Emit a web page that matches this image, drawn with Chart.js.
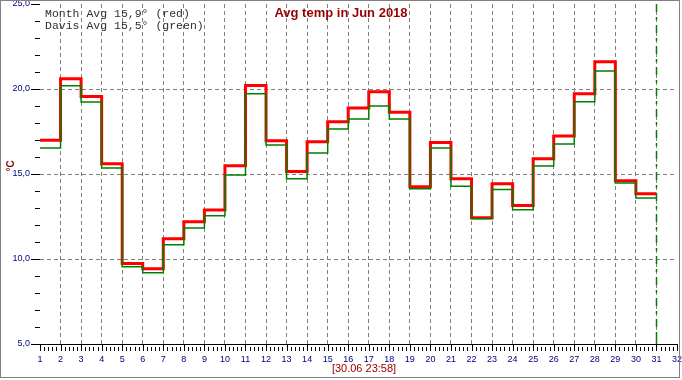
<!DOCTYPE html>
<html lang="en">
<head>
<meta charset="UTF-8">
<title>Avg temp in Jun 2018</title>
<style>
    html, body {
        margin: 0;
        padding: 0;
        background: #fff;
    }
</style>
</head>
<body>
<canvas id="tempChart" width="682" height="380"></canvas>

<script src="https://cdn.jsdelivr.net/npm/chart.js"></script>
<script>
    // days of June 2018, one step per day
    const days = [1, 2, 3, 4, 5, 6, 7, 8, 9, 10, 11, 12, 13, 14, 15,
                  16, 17, 18, 19, 20, 21, 22, 23, 24, 25, 26, 27, 28, 29, 30];

    // month average (red)
    const monthAvg = [16.98, 20.61, 19.56, 15.61, 9.74, 9.43, 11.19, 12.19, 12.88, 15.49,
                      20.21, 16.96, 15.14, 16.90, 18.08, 18.88, 19.84, 18.63, 14.25, 16.86,
                      14.72, 12.42, 14.43, 13.15, 15.90, 17.23, 19.72, 21.61, 14.61, 13.84];

    // Davis station average (green)
    const davisAvg = [16.53, 20.19, 19.24, 15.35, 9.54, 9.19, 10.84, 11.82, 12.55, 14.94,
                      19.72, 16.71, 14.72, 16.24, 17.65, 18.24, 19.00, 18.24, 14.13, 16.53,
                      14.28, 12.37, 14.09, 12.90, 15.47, 16.76, 19.25, 21.06, 14.47, 13.59];

    const yLabelValues = [5, 10, 15, 20, 25];
    const yGridValues = [10, 15, 20];
    const legendLines = ['Month Avg 15,9\u00b0 (red)', 'Davis Avg 15,5\u00b0 (green)'];
    const chartTitle = 'Avg temp in Jun 2018';
    const stampText = '[30.06 23:58]';
    const nowDay = 31;

    const xMin = 1, xMax = 32, yMin = 5, yMax = 25;

    // each day is a flat step from d to d+1, so repeat the last value at day 31
    function stepPoints(values) {
        const pts = days.map((d, i) => ({ x: d, y: values[i] }));
        pts.push({ x: days[days.length - 1] + 1, y: values[values.length - 1] });
        return pts;
    }

    const decorations = {
        id: 'decorations',
        beforeDraw(chart) {
            const ctx = chart.ctx;
            ctx.save();
            ctx.fillStyle = '#fff';
            ctx.fillRect(0, 0, chart.width, chart.height);
            ctx.restore();
        },
        afterDraw(chart) {
            const { ctx, chartArea, scales: { x, y } } = chart;
            ctx.save();

            // tick marks on both axes
            ctx.strokeStyle = '#000';
            ctx.lineWidth = 1;
            ctx.beginPath();
            for (let v = yMin; v <= yMax; v++) {
                const py = Math.round(y.getPixelForValue(v)) + 0.5;
                const major = yLabelValues.includes(v);
                ctx.moveTo(chartArea.left - (major ? 9 : 5), py);
                ctx.lineTo(chartArea.left, py);
            }
            for (let i = 0; i <= (xMax - xMin) * 5; i++) {
                const px = Math.round(x.getPixelForValue(xMin + i / 5)) + 0.5;
                const major = i % 5 === 0;
                ctx.moveTo(px, chartArea.bottom + (major ? 0 : 3));
                ctx.lineTo(px, chartArea.bottom + 7);
            }
            ctx.stroke();

            // "now" marker
            const nx = Math.round(x.getPixelForValue(nowDay)) + 0.5;
            ctx.strokeStyle = '#008000';
            ctx.lineWidth = 1.5;
            ctx.setLineDash([8, 5, 3, 5]);
            ctx.beginPath();
            ctx.moveTo(nx, chartArea.top);
            ctx.lineTo(nx, chartArea.bottom - 10);
            ctx.stroke();
            ctx.setLineDash([]);
            ctx.beginPath();
            ctx.moveTo(nx, chartArea.bottom - 10);
            ctx.lineTo(nx, chartArea.bottom);
            ctx.stroke();

            // legend text
            ctx.fillStyle = '#303030';
            ctx.font = '11.5px "Liberation Mono", "Courier New", monospace';
            ctx.textAlign = 'left';
            ctx.textBaseline = 'alphabetic';
            ctx.fillText(legendLines[0], 45, 17);
            ctx.fillText(legendLines[1], 45, 28.5);

            // title
            ctx.fillStyle = '#990000';
            ctx.font = 'bold 13px "Liberation Sans", Arial, sans-serif';
            ctx.textAlign = 'center';
            ctx.fillText(chartTitle, 341, 16.5);

            // time stamp under the x axis
            ctx.fillStyle = '#a00000';
            ctx.font = '11px "Liberation Sans", Arial, sans-serif';
            ctx.textBaseline = 'middle';
            ctx.fillText(stampText, 364, 369);

            // unit label
            ctx.save();
            ctx.translate(11, 166);
            ctx.rotate(-Math.PI / 2);
            ctx.fillStyle = '#800000';
            ctx.font = 'bold 10px "Liberation Sans", Arial, sans-serif';
            ctx.fillText('\u00b0C', 0, 0);
            ctx.restore();

            // frame round the picture
            ctx.strokeStyle = '#808080';
            ctx.lineWidth = 1;
            ctx.strokeRect(0.5, 0.5, 679, 377);

            ctx.restore();
        }
    };

    function noPadding(scale) {
        scale.paddingTop = 0;
        scale.paddingBottom = 0;
        scale.paddingLeft = 0;
        scale.paddingRight = 0;
    }

    const ctx = document.getElementById('tempChart').getContext('2d');
    new Chart(ctx, {
        type: 'line',
        data: {
            datasets: [
                {
                    label: 'Month Avg',
                    data: stepPoints(monthAvg),
                    borderColor: '#ff0000',
                    borderWidth: 3,
                    stepped: true,
                    pointRadius: 0,
                    fill: false,
                    order: 1
                },
                {
                    label: 'Davis Avg',
                    data: stepPoints(davisAvg),
                    borderColor: '#008000',
                    borderWidth: 1.5,
                    stepped: true,
                    pointRadius: 0,
                    fill: false,
                    order: 0
                }
            ]
        },
        options: {
            responsive: false,
            devicePixelRatio: 1,
            animation: false,
            layout: {
                padding: { top: 4, right: 5, left: 0, bottom: 0 }
            },
            plugins: {
                legend: { display: false },
                tooltip: { enabled: false },
                title: { display: false }
            },
            scales: {
                x: {
                    type: 'linear',
                    min: xMin,
                    max: xMax,
                    afterFit(scale) {
                        scale.height = 36;
                        noPadding(scale);
                    },
                    border: { display: true, color: '#000', width: 1, dash: [4, 3] },
                    grid: {
                        drawTicks: false,
                        color: c => (c.tick && c.tick.value > xMin && c.tick.value < xMax) ? '#808080' : 'rgba(0,0,0,0)'
                    },
                    ticks: {
                        stepSize: 1,
                        autoSkip: false,
                        maxRotation: 0,
                        padding: 10,
                        color: '#000080',
                        font: { family: '"Liberation Sans", Arial, sans-serif', size: 9 },
                        callback: v => String(v)
                    }
                },
                y: {
                    min: yMin,
                    max: yMax,
                    afterFit(scale) {
                        scale.width = 40;
                        noPadding(scale);
                    },
                    border: { display: false, dash: [4, 3] },
                    grid: {
                        drawTicks: false,
                        color: c => (c.tick && yGridValues.includes(c.tick.value)) ? '#808080' : 'rgba(0,0,0,0)'
                    },
                    ticks: {
                        stepSize: 1,
                        autoSkip: false,
                        padding: 10,
                        color: '#000080',
                        font: { family: '"Liberation Sans", Arial, sans-serif', size: 9 },
                        callback: v => yLabelValues.includes(v) ? v.toFixed(1).replace('.', ',') : ''
                    }
                }
            }
        },
        plugins: [decorations]
    });
</script>
</body>
</html>
